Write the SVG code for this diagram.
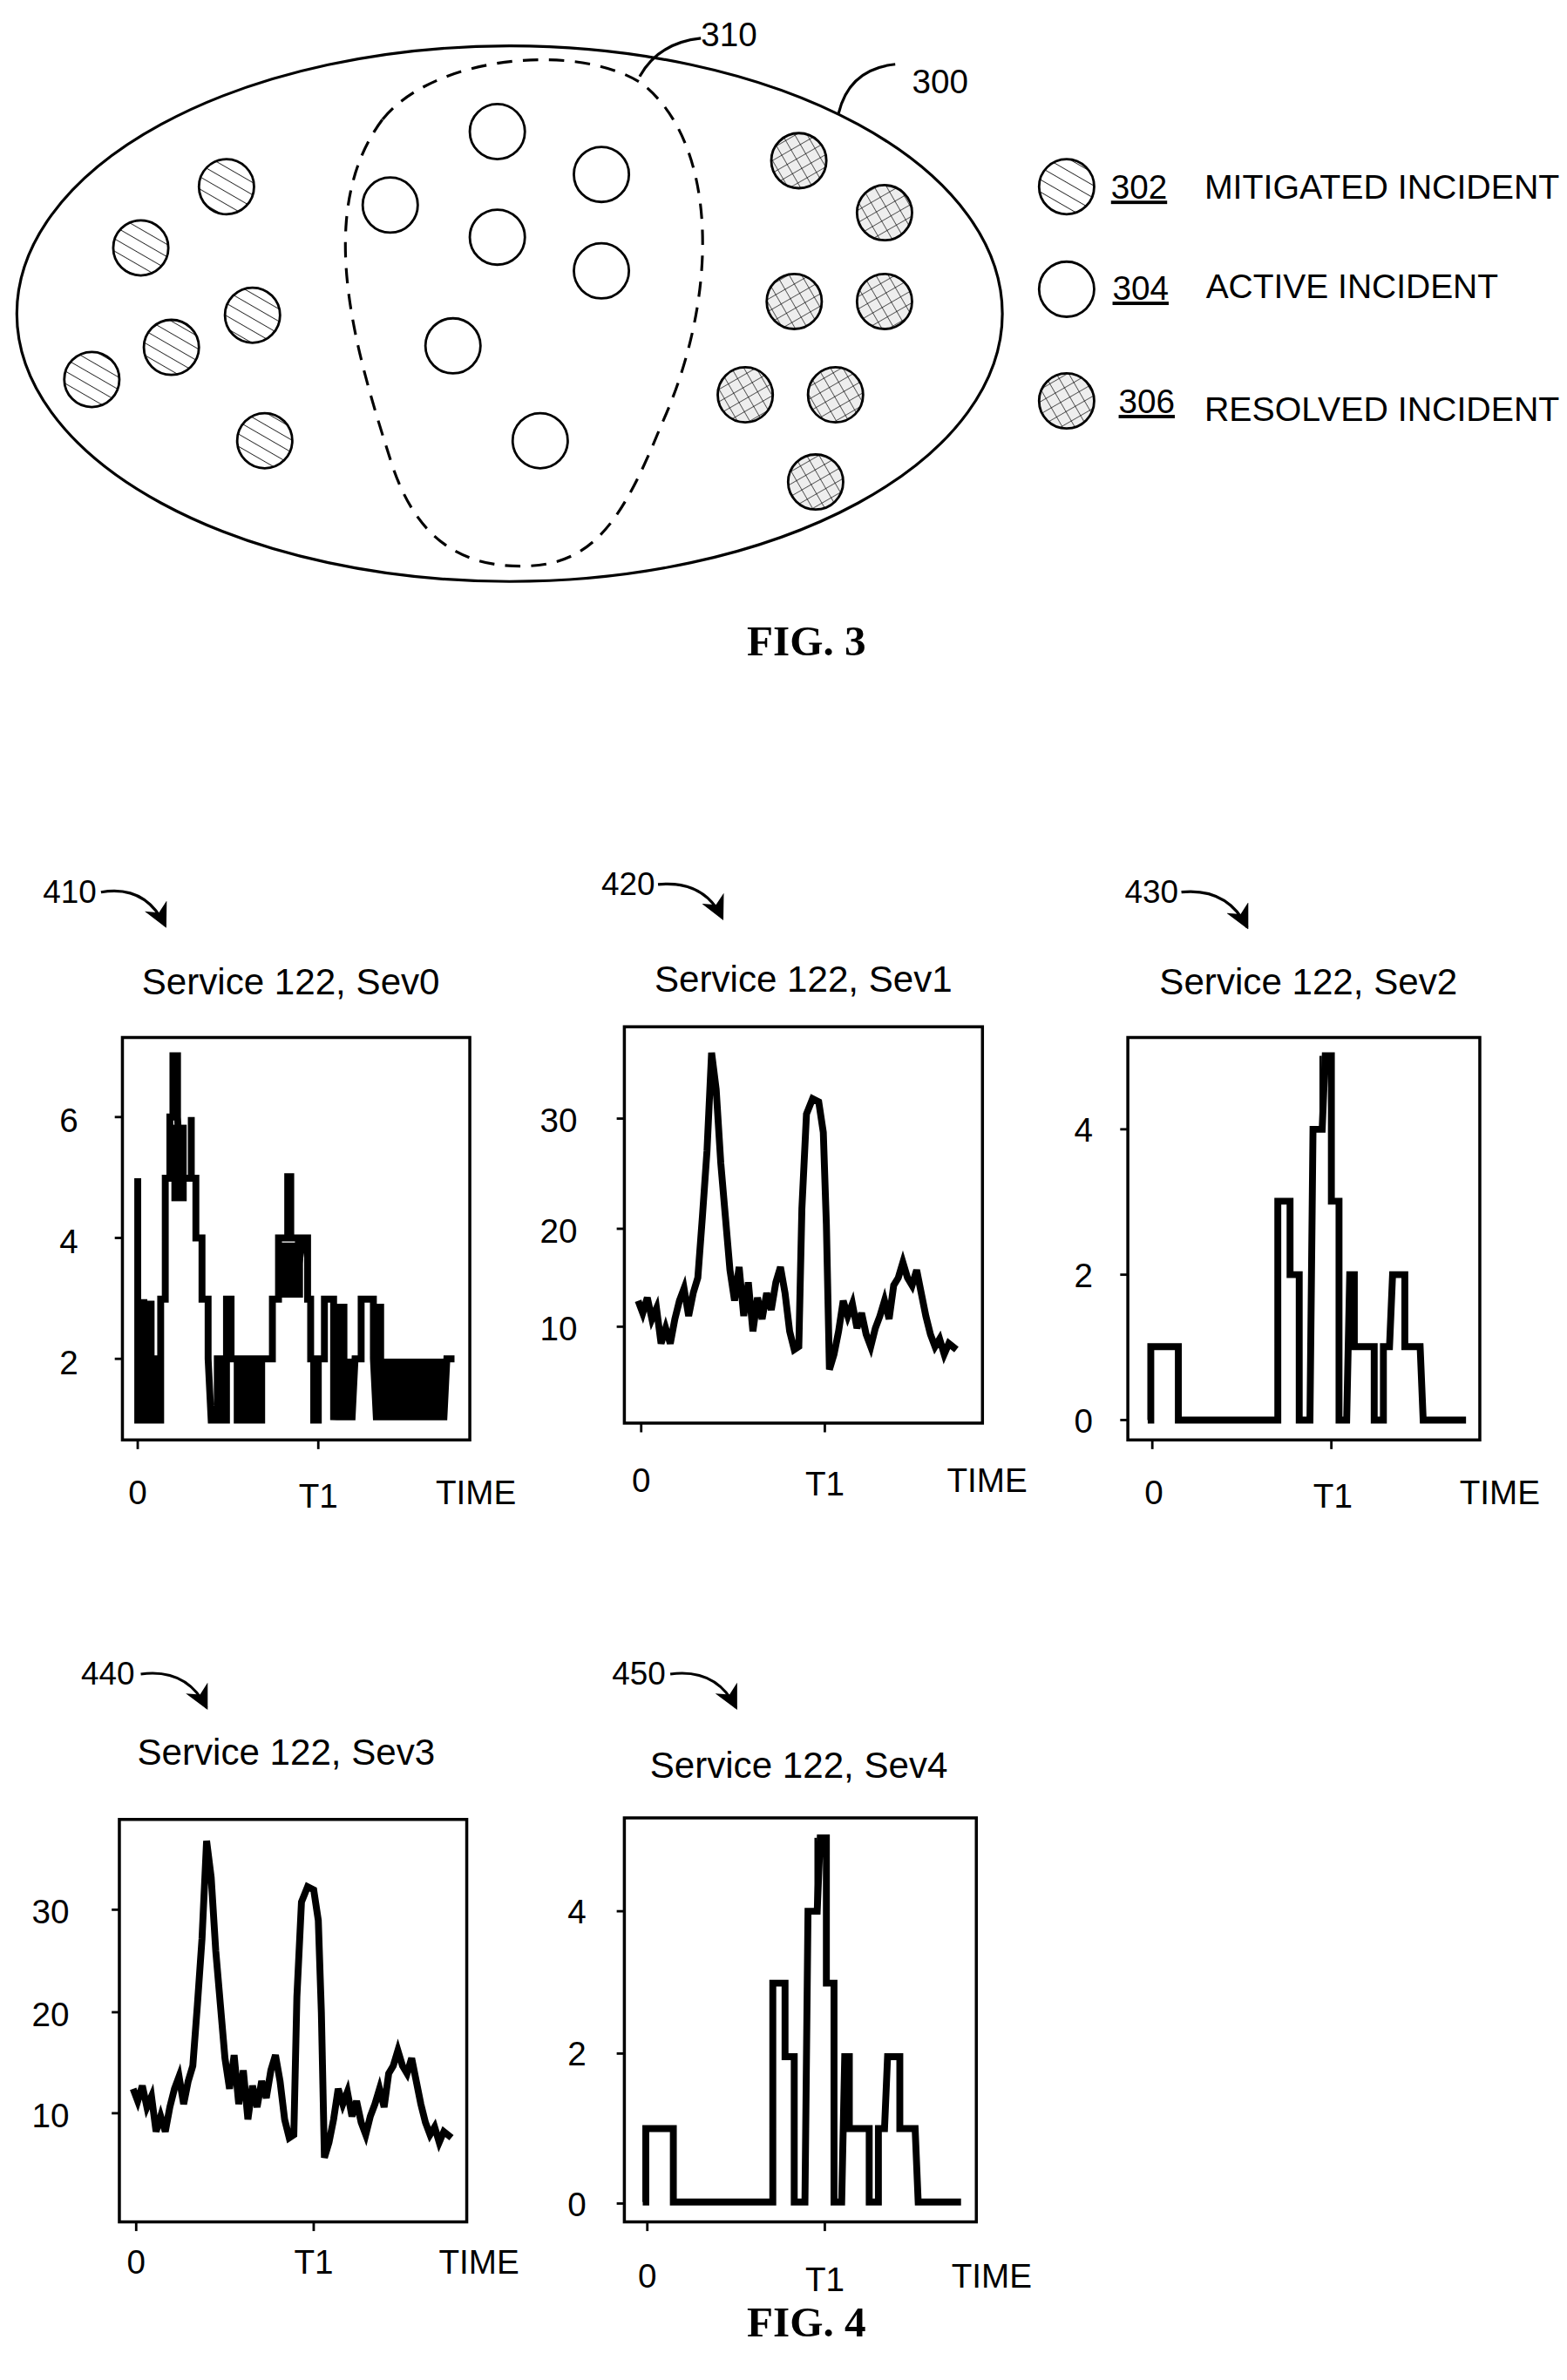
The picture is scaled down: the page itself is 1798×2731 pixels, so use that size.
<svg xmlns="http://www.w3.org/2000/svg" width="1798" height="2731" viewBox="0 0 1798 2731">
<style>
.t{font-family:"Liberation Sans",Arial,sans-serif;fill:#000}
.fig{font-family:"Liberation Serif","Times New Roman",serif;font-weight:bold;font-size:28px}
.ln{fill:none;stroke:#000;stroke-width:1.8}
.c{stroke:#000;stroke-width:1.6}
.box{fill:none;stroke:#000;stroke-width:2}
.dat{fill:none;stroke:#000;stroke-width:4.5;stroke-linejoin:miter}
</style>
<defs>
<pattern id="hatch" width="7" height="7" patternUnits="userSpaceOnUse" patternTransform="rotate(-60)">
<line x1="0" y1="0" x2="0" y2="7" stroke="#000" stroke-width="0.9"/>
</pattern>
<pattern id="cross" width="7" height="7" patternUnits="userSpaceOnUse" patternTransform="rotate(60)">
<rect width="7" height="7" fill="#eee"/>
<line x1="0" y1="0" x2="0" y2="7" stroke="#000" stroke-width="0.7"/>
<line x1="0" y1="0" x2="7" y2="0" stroke="#000" stroke-width="0.7"/>
</pattern>
<marker id="ah" viewBox="0 0 10 10" refX="9" refY="5" markerWidth="16" markerHeight="16" markerUnits="userSpaceOnUse" orient="auto">
<path d="M0,0 L10,5 L0,10 L3,5 z" fill="#000"/>
</marker>
<g id="curveA">
<polyline class="dat" points="417,850 420,858 423,848 426,862 429,855 432,878 435,868 438,878 441,862 444,850 447,842 450,860 453,845 456,835 459,795 462,752 465,688 468,712 471,760 474,795 477,830 480,850 483,828 486,860 489,838 492,870 495,848 498,862 501,845 504,856 507,838 510,828 513,845 516,870 519,882 522,880 524,790 527,728 531,718 535,720 538,740 540,800 542,895 545,885 548,870 551,850 554,860 557,852 560,868 563,858 566,872 569,880 572,868 575,860 578,850 581,862 584,840 587,835 590,825 593,835 596,840 599,830 602,845 605,860 608,872 611,880 614,875 617,885 620,878 625,882"/>
</g>
<g id="curveB">
<polyline class="dat" points="750,928 752,928 752,880 770,880 770,928 833,928 835,928 835,785 843,785 843,833 849,833 849,928 856,928 858,738 864,738 866,690 870,690 870,785 875,785 875,928 880,928 882,833 885,833 885,880 898,880 898,928 904,928 904,880 908,880 910,833 918,833 918,880 928,880 930,928 958,928"/>
<line class="c" x1="863" y1="690" x2="863" y2="738" stroke-width="3"/>
</g>
</defs>
<g transform="scale(1.7559)">
<g id="fig3">
<g id="n300">
<ellipse cx="333" cy="205" rx="322" ry="175" class="ln"/>
<path class="ln" d="M548,74 Q555,45 585,42"/>
<text class="t" x="596" y="61" font-size="22">300</text>
</g>
<g id="n310">
<path class="ln" stroke-dasharray="10,7" d="M250,78 C285,35 380,28 420,55 C470,95 470,195 432,278 C405,345 385,370 340,370 C292,370 268,342 255,300 C232,228 205,138 250,78 Z"/>
<path class="ln" d="M418,50 Q430,28 458,25"/>
<text class="t" x="458" y="30" font-size="22">310</text>
</g>
<g id="mitigated">
<circle cx="148" cy="122" r="18" fill="url(#hatch)" class="c"/>
<circle cx="92" cy="162" r="18" fill="url(#hatch)" class="c"/>
<circle cx="165" cy="206" r="18" fill="url(#hatch)" class="c"/>
<circle cx="112" cy="227" r="18" fill="url(#hatch)" class="c"/>
<circle cx="60" cy="248" r="18" fill="url(#hatch)" class="c"/>
<circle cx="173" cy="288" r="18" fill="url(#hatch)" class="c"/>
</g>
<g id="active">
<circle cx="325" cy="86" r="18" fill="#fff" class="c"/>
<circle cx="393" cy="114" r="18" fill="#fff" class="c"/>
<circle cx="255" cy="134" r="18" fill="#fff" class="c"/>
<circle cx="325" cy="155" r="18" fill="#fff" class="c"/>
<circle cx="393" cy="177" r="18" fill="#fff" class="c"/>
<circle cx="296" cy="226" r="18" fill="#fff" class="c"/>
<circle cx="353" cy="288" r="18" fill="#fff" class="c"/>
</g>
<g id="resolved">
<circle cx="522" cy="105" r="18" fill="url(#cross)" class="c"/>
<circle cx="578" cy="139" r="18" fill="url(#cross)" class="c"/>
<circle cx="519" cy="197" r="18" fill="url(#cross)" class="c"/>
<circle cx="578" cy="197" r="18" fill="url(#cross)" class="c"/>
<circle cx="487" cy="258" r="18" fill="url(#cross)" class="c"/>
<circle cx="546" cy="258" r="18" fill="url(#cross)" class="c"/>
<circle cx="533" cy="315" r="18" fill="url(#cross)" class="c"/>
</g>
<g id="legend">
<circle cx="697" cy="122" r="18" fill="url(#hatch)" class="c"/>
<text class="t" x="726" y="130" font-size="22" text-decoration="underline">302</text>
<text class="t" x="787" y="130" font-size="22" textLength="232" lengthAdjust="spacingAndGlyphs">MITIGATED INCIDENT</text>
<circle cx="697" cy="189" r="18" fill="#fff" class="c"/>
<text class="t" x="727" y="196" font-size="22" text-decoration="underline">304</text>
<text class="t" x="788" y="195" font-size="22" textLength="191" lengthAdjust="spacingAndGlyphs">ACTIVE INCIDENT</text>
<circle cx="697" cy="262" r="18" fill="url(#cross)" class="c"/>
<text class="t" x="731" y="270" font-size="22" text-decoration="underline">306</text>
<text class="t" x="787" y="275" font-size="22" textLength="232" lengthAdjust="spacingAndGlyphs">RESOLVED INCIDENT</text>
</g>
<text class="fig" x="527" y="428" text-anchor="middle">FIG. 3</text>
</g>

<g id="n410">
<text class="t" x="28" y="590" font-size="21">410</text>
<path class="ln" d="M66,583 Q95,578 108,605" marker-end="url(#ah)" stroke-width="2"/>
<text class="t" x="190" y="650" font-size="24" text-anchor="middle">Service 122, Sev0</text>
<rect class="box" x="80" y="678" width="227" height="263"/>
<g class="c"><line x1="75" y1="730" x2="80" y2="730"/><line x1="75" y1="809" x2="80" y2="809"/><line x1="75" y1="888" x2="80" y2="888"/><line x1="90" y1="941" x2="90" y2="947"/><line x1="208" y1="941" x2="208" y2="947"/></g>
<text class="t" x="45" y="740" font-size="22" text-anchor="middle">6</text>
<text class="t" x="45" y="819" font-size="22" text-anchor="middle">4</text>
<text class="t" x="45" y="898" font-size="22" text-anchor="middle">2</text>
<text class="t" x="90" y="983" font-size="22" text-anchor="middle">0</text>
<text class="t" x="208" y="985" font-size="22" text-anchor="middle">T1</text>
<text class="t" x="311" y="983" font-size="22" text-anchor="middle">TIME</text>
<polyline class="dat" points="90,770 90,928 94,928 94,849 96,928 100,928 100,888 103,888 103,928 105,928 105,849 108,849 108,770 111,770 111,730 113,730 113,690 116,690 116,730 118,770 125,770 125,730 125,770 128,770 128,809 132,809 132,849 136,849 136,888 138,928 142,928 142,888 146,888 146,928 148,928 148,849 151,849 151,888 155,888 155,928 158,928 158,888 162,888 162,928 165,928 165,888 168,888 168,928 171,928 171,888 178,888 178,849 182,849 182,809 188,809 188,769 190,769 190,809 195,809 195,828 198,809 201,809 201,849 203,849 203,888 205,888 205,928 208,928 208,888 212,888 212,849 218,849 218,928 220,888 222,928 224,888 226,928 228,888 230,928 232,888 236,888 236,849 244,849 244,888 246,928 248,888 250,928 252,888 254,928 256,888 258,928 260,888 262,928 264,888 266,928 268,888 270,928 272,888 274,928 276,888 278,928 280,888 282,928 284,888 286,928 288,888 290,928 292,888 297,888"/>
<rect x="91" y="850" width="10" height="78"/>
<rect x="112" y="735" width="10" height="50"/>
<rect x="181" y="812" width="17" height="36"/>
<rect x="217" y="852" width="10" height="36"/>
<rect x="243" y="852" width="8" height="36"/>
</g>

<g id="n420">
<text class="t" x="393" y="585" font-size="21">420</text>
<path class="ln" d="M430,578 Q460,575 472,600" marker-end="url(#ah)" stroke-width="2"/>
<text class="t" x="525" y="648" font-size="24" text-anchor="middle">Service 122, Sev1</text>
<rect class="box" x="408" y="671" width="234" height="259"/>
<g class="c"><line x1="403" y1="731" x2="408" y2="731"/><line x1="403" y1="803" x2="408" y2="803"/><line x1="403" y1="867" x2="408" y2="867"/><line x1="419" y1="930" x2="419" y2="936"/><line x1="539" y1="930" x2="539" y2="936"/></g>
<text class="t" x="365" y="740" font-size="22" text-anchor="middle">30</text>
<text class="t" x="365" y="812" font-size="22" text-anchor="middle">20</text>
<text class="t" x="365" y="876" font-size="22" text-anchor="middle">10</text>
<text class="t" x="419" y="975" font-size="22" text-anchor="middle">0</text>
<text class="t" x="539" y="977" font-size="22" text-anchor="middle">T1</text>
<text class="t" x="645" y="975" font-size="22" text-anchor="middle">TIME</text>
<use href="#curveA"/>
</g>

<g id="n430">
<text class="t" x="735" y="590" font-size="21">430</text>
<path class="ln" d="M772,583 Q802,580 815,606" marker-end="url(#ah)" stroke-width="2"/>
<text class="t" x="855" y="650" font-size="24" text-anchor="middle">Service 122, Sev2</text>
<rect class="box" x="737" y="678" width="230" height="263"/>
<g class="c"><line x1="732" y1="738" x2="737" y2="738"/><line x1="732" y1="833" x2="737" y2="833"/><line x1="732" y1="928" x2="737" y2="928"/><line x1="753" y1="941" x2="753" y2="947"/><line x1="870" y1="941" x2="870" y2="947"/></g>
<text class="t" x="708" y="746" font-size="22" text-anchor="middle">4</text>
<text class="t" x="708" y="841" font-size="22" text-anchor="middle">2</text>
<text class="t" x="708" y="936" font-size="22" text-anchor="middle">0</text>
<text class="t" x="754" y="983" font-size="22" text-anchor="middle">0</text>
<text class="t" x="871" y="985" font-size="22" text-anchor="middle">T1</text>
<text class="t" x="980" y="983" font-size="22" text-anchor="middle">TIME</text>
<use href="#curveB"/>
</g>

<g id="n440">
<text class="t" x="53" y="1101" font-size="21">440</text>
<path class="ln" d="M92,1094 Q122,1090 135,1116" marker-end="url(#ah)" stroke-width="2"/>
<text class="t" x="187" y="1153" font-size="24" text-anchor="middle">Service 122, Sev3</text>
<rect class="box" x="78" y="1189" width="227" height="263"/>
<g class="c"><line x1="73" y1="1248" x2="78" y2="1248"/><line x1="73" y1="1315" x2="78" y2="1315"/><line x1="73" y1="1381" x2="78" y2="1381"/><line x1="89" y1="1452" x2="89" y2="1458"/><line x1="205" y1="1452" x2="205" y2="1458"/></g>
<text class="t" x="33" y="1257" font-size="22" text-anchor="middle">30</text>
<text class="t" x="33" y="1324" font-size="22" text-anchor="middle">20</text>
<text class="t" x="33" y="1390" font-size="22" text-anchor="middle">10</text>
<text class="t" x="89" y="1486" font-size="22" text-anchor="middle">0</text>
<text class="t" x="205" y="1486" font-size="22" text-anchor="middle">T1</text>
<text class="t" x="313" y="1486" font-size="22" text-anchor="middle">TIME</text>
<use href="#curveA" transform="translate(-330,515)"/>
</g>

<g id="n450">
<text class="t" x="400" y="1101" font-size="21">450</text>
<path class="ln" d="M438,1094 Q468,1090 481,1116" marker-end="url(#ah)" stroke-width="2"/>
<text class="t" x="522" y="1162" font-size="24" text-anchor="middle">Service 122, Sev4</text>
<rect class="box" x="408" y="1188" width="230" height="264"/>
<g class="c"><line x1="403" y1="1249" x2="408" y2="1249"/><line x1="403" y1="1342" x2="408" y2="1342"/><line x1="403" y1="1440" x2="408" y2="1440"/><line x1="423" y1="1452" x2="423" y2="1458"/><line x1="539" y1="1452" x2="539" y2="1458"/></g>
<text class="t" x="377" y="1257" font-size="22" text-anchor="middle">4</text>
<text class="t" x="377" y="1350" font-size="22" text-anchor="middle">2</text>
<text class="t" x="377" y="1448" font-size="22" text-anchor="middle">0</text>
<text class="t" x="423" y="1495" font-size="22" text-anchor="middle">0</text>
<text class="t" x="539" y="1497" font-size="22" text-anchor="middle">T1</text>
<text class="t" x="648" y="1495" font-size="22" text-anchor="middle">TIME</text>
<use href="#curveB" transform="translate(-330,511)"/>
</g>
<text class="fig" x="527" y="1527" text-anchor="middle">FIG. 4</text>
</g>
</svg>
